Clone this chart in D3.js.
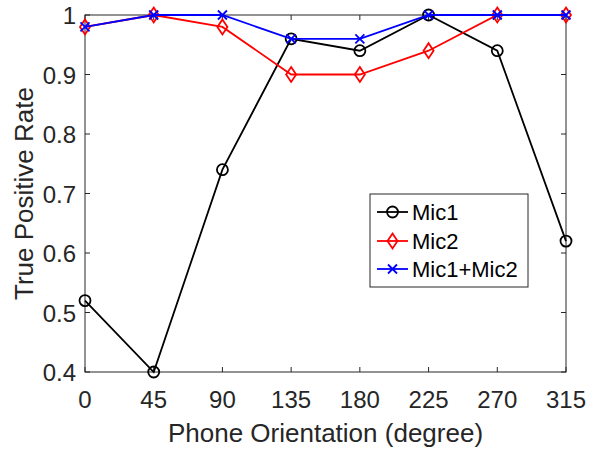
<!DOCTYPE html>
<html>
<head>
<meta charset="utf-8">
<script src="https://cdn.jsdelivr.net/npm/d3@7"></script>
<style>
  html, body { margin: 0; padding: 0; background: #fff; }
  svg { display: block; font-family: "Liberation Sans", Arial, sans-serif; }
</style>
</head>
<body>
<svg id="chart" width="589" height="449"></svg>
<script>
// Orientation angles (degrees) and detection rates per microphone setup
const angles = [0, 45, 90, 135, 180, 225, 270, 315];
const mic1 = [0.52, 0.40, 0.74, 0.96, 0.94, 1.00, 0.94, 0.62];
const mic2 = [0.98, 1.00, 0.98, 0.90, 0.90, 0.94, 1.00, 1.00];
const micBoth = [0.98, 1.00, 1.00, 0.96, 0.96, 1.00, 1.00, 1.00];
const yTicks = [0.4, 0.5, 0.6, 0.7, 0.8, 0.9, 1];
const seriesNames = ["Mic1", "Mic2", "Mic1+Mic2"];

const svg = d3.select("#chart");
const plotL = 85, plotR = 566, plotT = 15, plotB = 372;
const axisColor = "#262626";
const tickFont = 24, titleFont = 26, legendFont = 22;

const x = d3.scaleLinear().domain([0, 315]).range([plotL, plotR]);
const y = d3.scaleLinear().domain([0.4, 1]).range([plotB, plotT]);

// Axes box
svg.append("rect")
  .attr("x", plotL).attr("y", plotT)
  .attr("width", plotR - plotL).attr("height", plotB - plotT)
  .attr("fill", "none").attr("stroke", axisColor).attr("stroke-width", 1);

// Inward ticks on all four sides
const tickLen = 5;
const g = svg.append("g").attr("stroke", axisColor).attr("stroke-width", 1);
angles.forEach(a => {
  g.append("line").attr("x1", x(a)).attr("x2", x(a)).attr("y1", plotB).attr("y2", plotB - tickLen);
  g.append("line").attr("x1", x(a)).attr("x2", x(a)).attr("y1", plotT).attr("y2", plotT + tickLen);
});
yTicks.forEach(t => {
  g.append("line").attr("x1", plotL).attr("x2", plotL + tickLen).attr("y1", y(t)).attr("y2", y(t));
  g.append("line").attr("x1", plotR).attr("x2", plotR - tickLen).attr("y1", y(t)).attr("y2", y(t));
});

// Tick labels
svg.append("g").selectAll("text").data(angles).join("text")
  .attr("x", d => x(d)).attr("y", 408)
  .attr("text-anchor", "middle").attr("font-size", tickFont).attr("fill", axisColor)
  .text(d => d);
svg.append("g").selectAll("text").data(yTicks).join("text")
  .attr("x", 76).attr("y", d => y(d) + 9)
  .attr("text-anchor", "end").attr("font-size", tickFont).attr("fill", axisColor)
  .text(d => d3.format("~g")(d));

// Axis titles
svg.append("text")
  .attr("x", (plotL + plotR) / 2).attr("y", 442)
  .attr("text-anchor", "middle").attr("font-size", titleFont).attr("fill", axisColor)
  .text("Phone Orientation (degree)");
svg.append("text")
  .attr("transform", `translate(33, ${(plotT + plotB) / 2}) rotate(-90)`)
  .attr("text-anchor", "middle").attr("font-size", titleFont).attr("fill", axisColor)
  .text("True Positive Rate");

const series = [
  { name: seriesNames[0], values: mic1, color: "#000000", marker: "circle" },
  { name: seriesNames[1], values: mic2, color: "#ff0000", marker: "diamond" },
  { name: seriesNames[2], values: micBoth, color: "#0000ff", marker: "cross" }
];

function drawMarker(sel, type, cx, cy, color) {
  if (type === "circle") {
    sel.append("circle").attr("cx", cx).attr("cy", cy).attr("r", 5.5)
      .attr("fill", "none").attr("stroke", color).attr("stroke-width", 1.8);
  } else if (type === "diamond") {
    const w = 5, h = 7.5;
    sel.append("path")
      .attr("d", `M${cx},${cy - h}L${cx + w},${cy}L${cx},${cy + h}L${cx - w},${cy}Z`)
      .attr("fill", "none").attr("stroke", color).attr("stroke-width", 1.8);
  } else {
    const s = 4.5;
    sel.append("path")
      .attr("d", `M${cx - s},${cy - s}L${cx + s},${cy + s}M${cx - s},${cy + s}L${cx + s},${cy - s}`)
      .attr("fill", "none").attr("stroke", color).attr("stroke-width", 1.8);
  }
}

const line = d3.line().x((d, i) => x(angles[i])).y(d => y(d));
series.forEach(s => {
  const sg = svg.append("g");
  sg.append("path").datum(s.values).attr("d", line)
    .attr("fill", "none").attr("stroke", s.color).attr("stroke-width", 1.8);
  s.values.forEach((v, i) => drawMarker(sg, s.marker, x(angles[i]), y(v), s.color));
});

// Legend
const legend = svg.append("g");
legend.append("rect")
  .attr("x", 370).attr("y", 194).attr("width", 158).attr("height", 93)
  .attr("fill", "#fff").attr("stroke", axisColor).attr("stroke-width", 1);
const rowsY = [212, 241, 269];
series.forEach((s, i) => {
  const yy = rowsY[i];
  legend.append("line").attr("x1", 377).attr("x2", 408).attr("y1", yy).attr("y2", yy)
    .attr("stroke", s.color).attr("stroke-width", 1.8);
  drawMarker(legend, s.marker, 392.5, yy, s.color);
  legend.append("text").attr("x", 412).attr("y", yy + 8)
    .attr("font-size", legendFont).attr("fill", "#000").text(s.name);
});
</script>
</body>
</html>
